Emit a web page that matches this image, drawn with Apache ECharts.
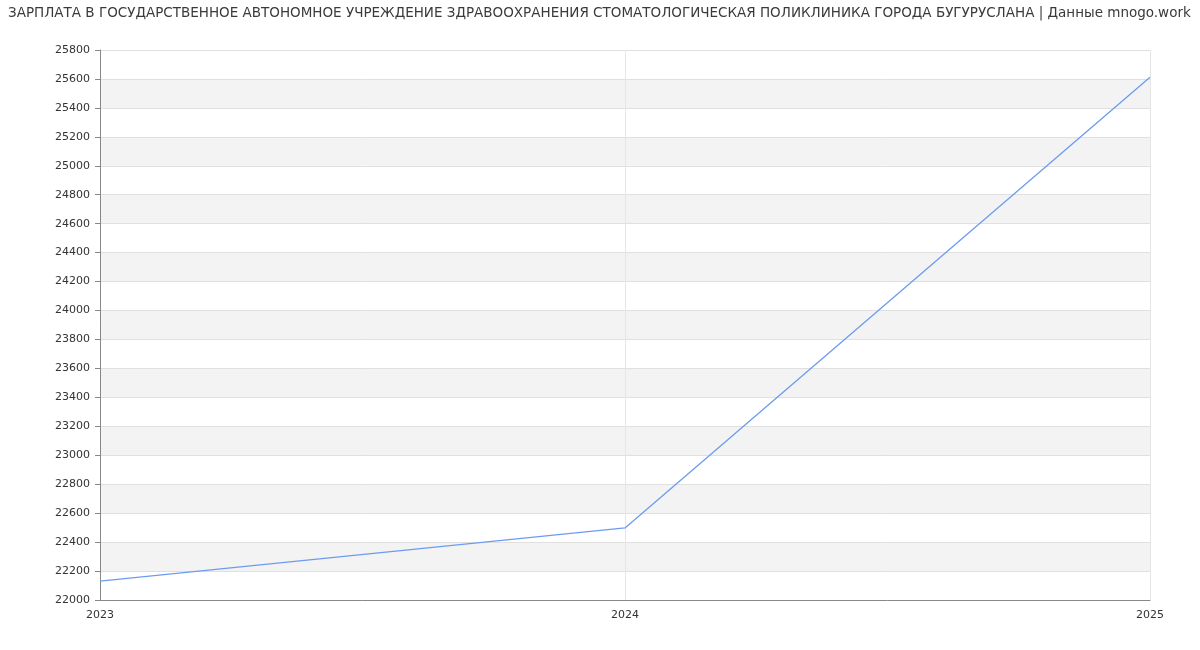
<!DOCTYPE html>
<html><head><meta charset="utf-8">
<script src="https://cdn.jsdelivr.net/npm/echarts@6/dist/echarts.min.js"></script>
<style>html,body{margin:0;padding:0;background:#fff}#c{width:1200px;height:650px}</style>
</head><body><div id="c"></div>
<script>
const years = [2023, 2024, 2025];
const salary = [22131, 22498, 25612];
const titleText = 'ЗАРПЛАТА В ГОСУДАРСТВЕННОЕ АВТОНОМНОЕ УЧРЕЖДЕНИЕ ЗДРАВООХРАНЕНИЯ СТОМАТОЛОГИЧЕСКАЯ ПОЛИКЛИНИКА ГОРОДА БУГУРУСЛАНА | Данные mnogo.work';

const chart = echarts.init(document.getElementById('c'));
chart.setOption({
  animation: false,
  textStyle: {fontFamily: 'DejaVu Sans'},
  title: {text: titleText, left: 3, top: 1,
    textStyle: {fontSize: 13.5, fontWeight: 'normal', color: '#3a3a3a', fontFamily: 'DejaVu Sans'}},
  grid: {left: 100, right: 50, top: 50, bottom: 50},
  xAxis: {type: 'value', min: 2023, max: 2025, interval: 1,
    axisLine: {lineStyle: {color: '#888'}},
    axisTick: {show: false},
    axisLabel: {color: '#333', fontSize: 11, margin: 10, formatter: v => String(v)},
    splitLine: {show: true, lineStyle: {color: '#e6e6e6'}}},
  yAxis: {type: 'value', min: 22000, max: 25800, interval: 200,
    axisLine: {show: true, lineStyle: {color: '#888'}},
    axisTick: {show: true, length: 5, lineStyle: {color: '#888'}},
    axisLabel: {color: '#333', fontSize: 11, margin: 10, formatter: v => String(v)},
    splitLine: {show: true, lineStyle: {color: '#e0e0e0'}},
    splitArea: {show: true, areaStyle: {color: ['#ffffff', '#f3f3f3']}}},
  series: [{type: 'line', data: years.map((y, i) => [y, salary[i]]),
    showSymbol: false, symbol: 'none',
    lineStyle: {color: '#6d9bf0', width: 1.3}}]
});
</script></body></html>
